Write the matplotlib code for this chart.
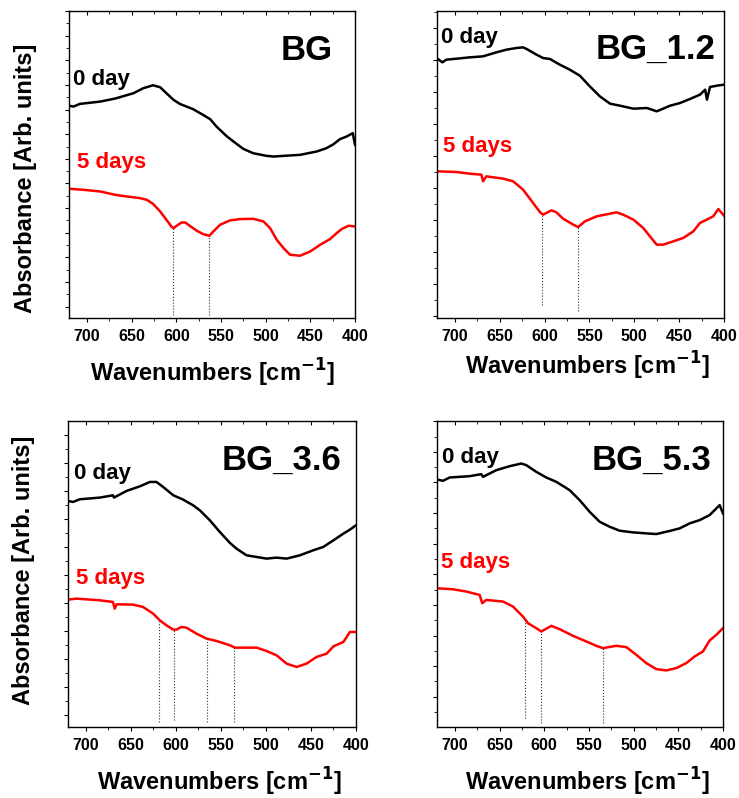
import numpy as np
import matplotlib.pyplot as plt
from matplotlib.ticker import MultipleLocator, AutoMinorLocator

plt.rcParams['font.family'] = ['Liberation Sans', 'DejaVu Sans']
plt.rcParams['font.weight'] = 'bold'
plt.rcParams['mathtext.default'] = 'bf'

# ---- data (absorbance in arbitrary units) ----
# BG
bg_wn0 = [719, 715, 708, 685, 668.5, 648, 637, 626, 618, 611, 603, 596, 581, 570, 562, 555, 544, 536,
          525, 514, 499, 491, 480, 461.5, 443, 432, 424, 417, 409.5, 402.5, 400]
bg_day0 = [6.82, 6.80, 6.88, 6.95, 7.04, 7.20, 7.35, 7.44, 7.38, 7.20, 7.00, 6.88, 6.72, 6.55, 6.42, 6.20,
           5.92, 5.75, 5.53, 5.40, 5.32, 5.30, 5.32, 5.35, 5.45, 5.55, 5.67, 5.82, 5.90, 6.00, 5.65]
bg_wn5 = [719, 704, 685, 668.5, 655.5, 640.5, 633, 626, 618, 611, 605, 603, 599.5, 594, 590, 585, 577,
          570, 563, 558.5, 551, 540, 529, 514, 502.5, 495, 487.6, 480, 472.7, 461.5, 450, 439, 428,
          420.5, 415, 407.5, 400]
bg_day5 = [4.33, 4.30, 4.25, 4.15, 4.10, 4.05, 4.00, 3.88, 3.65, 3.40, 3.18, 3.15, 3.22, 3.32, 3.32,
           3.22, 3.07, 2.97, 2.92, 3.05, 3.25, 3.38, 3.42, 3.43, 3.35, 3.15, 2.80, 2.55, 2.35, 2.32,
           2.45, 2.65, 2.82, 3.00, 3.12, 3.22, 3.20]
bg_marks = [603.3, 563]
bg_marks_low = [0.55, 0.55]

# BG_1.2
bg12_wn0 = [719, 714, 709.6, 698, 683.5, 668.6, 653.8, 642.6, 631.4, 624, 620, 609, 601.7, 594, 583,
            571.9, 560.7, 549.6, 538.4, 527, 516, 501, 486, 475, 460, 449, 438, 426.8, 421, 419,
            415.6, 408, 400]
bg12_day0 = [8.22, 8.12, 8.20, 8.23, 8.27, 8.30, 8.42, 8.50, 8.55, 8.57, 8.52, 8.35, 8.25, 8.22, 8.05,
             7.90, 7.72, 7.40, 7.10, 6.88, 6.82, 6.73, 6.75, 6.65, 6.82, 6.90, 7.02, 7.15, 7.30, 7.00,
             7.38, 7.42, 7.45]
bg12_wn5 = [719, 698, 683.5, 670.5, 668.6, 665, 646, 635, 624, 612.8, 605, 601.7, 592.4, 586.8, 579.4,
            568, 562.6, 555, 542, 527, 519.8, 512.4, 501, 490, 482.6, 475, 467.7, 456.6, 445.4, 434.2,
            426.8, 419.4, 412, 406.3, 400]
bg12_day5 = [4.85, 4.83, 4.78, 4.75, 4.55, 4.70, 4.63, 4.55, 4.30, 3.90, 3.62, 3.55, 3.68, 3.62, 3.43,
             3.25, 3.18, 3.35, 3.50, 3.58, 3.62, 3.55, 3.40, 3.15, 2.90, 2.65, 2.65, 2.75, 2.85, 3.05,
             3.30, 3.40, 3.50, 3.72, 3.52]
bg12_marks = [602.8, 562.6]
bg12_marks_low = [0.85, 0.65]

# BG_3.6
bg36_wn0 = [720, 714.4, 707, 684.8, 670, 668.9, 655, 640, 629, 621.7, 614.3, 603, 592, 581, 573.5,
            562.4, 551.3, 540, 532.8, 521.6, 510.5, 499.4, 488.3, 477, 462.3, 447.5, 436.4, 425, 414,
            406.7, 400]
bg36_day0 = [6.98, 6.95, 7.03, 7.08, 7.15, 7.08, 7.28, 7.42, 7.55, 7.55, 7.40, 7.15, 7.02, 6.85, 6.70,
             6.40, 6.05, 5.72, 5.55, 5.35, 5.30, 5.25, 5.28, 5.25, 5.35, 5.50, 5.60, 5.80, 6.00, 6.12,
             6.25]
bg36_wn5 = [720, 710.7, 684.8, 670, 668.1, 666, 647.7, 636.6, 625.4, 618, 610.6, 603, 599.5, 594, 588.4,
            577.3, 566, 555, 540, 534.6, 521.6, 510.5, 499.4, 488.3, 477, 466, 455, 443.8, 432.6, 425,
            414, 406.7, 400]
bg36_day5 = [4.02, 4.05, 4.00, 3.95, 3.75, 3.88, 3.87, 3.80, 3.60, 3.40, 3.25, 3.12, 3.12, 3.20, 3.18,
             3.00, 2.85, 2.78, 2.65, 2.58, 2.58, 2.58, 2.48, 2.35, 2.10, 2.00, 2.10, 2.30, 2.40, 2.62,
             2.75, 3.05, 3.05]
bg36_marks = [618.8, 602, 565.4, 535.7]
bg36_marks_low = [0.35, 0.40, 0.35, 0.35]

# BG_5.3
bg53_wn0 = [720, 713.3, 705.8, 683.4, 670.4, 668.5, 653.6, 638.7, 625.6, 620, 608.9, 597.7, 586.5, 571.6,
            560.4, 549.2, 538, 526.8, 515.6, 500.7, 485.8, 474.6, 460, 448.5, 437.3, 426, 414.9,
            403.7, 400]
bg53_day0 = [7.62, 7.58, 7.68, 7.72, 7.78, 7.70, 7.90, 8.02, 8.10, 8.05, 7.85, 7.68, 7.55, 7.30, 7.00,
             6.65, 6.35, 6.20, 6.08, 6.03, 6.00, 5.98, 6.07, 6.15, 6.30, 6.40, 6.55, 6.85, 6.60]
bg53_wn5 = [720, 702, 687, 672.3, 669.3, 664.8, 646, 635, 623.8, 618.2, 608.9, 603.3, 592, 582.7, 567.8,
            552.9, 541.7, 534.3, 519.3, 508.1, 497, 485.8, 474.6, 463.4, 452.2, 441, 431.7, 422.4,
            414.9, 407.4, 400]
bg53_day5 = [4.35, 4.32, 4.25, 4.15, 3.90, 4.00, 3.95, 3.80, 3.50, 3.30, 3.15, 3.05, 3.22, 3.12, 2.92,
             2.75, 2.62, 2.55, 2.62, 2.58, 2.35, 2.10, 1.92, 1.88, 1.95, 2.10, 2.30, 2.45, 2.78, 2.95,
             3.15]
bg53_marks = [621.2, 603.3, 534.3]
bg53_marks_low = [0.45, 0.30, 0.30]

names = ['BG', 'BG_1.2', 'BG_3.6', 'BG_5.3']

panels = [
    (bg_wn0, bg_day0, bg_wn5, bg_day5, bg_marks, bg_marks_low),
    (bg12_wn0, bg12_day0, bg12_wn5, bg12_day5, bg12_marks, bg12_marks_low),
    (bg36_wn0, bg36_day0, bg36_wn5, bg36_day5, bg36_marks, bg36_marks_low),
    (bg53_wn0, bg53_day0, bg53_wn5, bg53_day5, bg53_marks, bg53_marks_low),
]

# layout per panel
rects = [[0.0934, 0.6015, 0.3870, 0.3847],
         [0.5913, 0.6015, 0.3884, 0.3847],
         [0.0920, 0.0890, 0.3897, 0.3835],
         [0.5913, 0.0890, 0.3870, 0.3835]]
ylims = [(0.45, 9.67), (0.45, 9.66), (0.20, 9.38), (0.18, 9.38)]
ytick_step = [(0.74, 0.05), (0.96, 0.52), (0.84, 0.57), (0.92, 0.17)]
day0_pos = [(0.014, 0.759), (0.013, 0.895), (0.021, 0.810), (0.016, 0.864)]
day5_pos = [(0.028, 0.489), (0.020, 0.541), (0.028, 0.467), (0.014, 0.520)]
name_pos = [(0.923, 0.84), (0.969, 0.843), (0.950, 0.84), (0.960, 0.84)]
xlab_pos = [(0.502, -0.125), (0.524, -0.102), (0.525, -0.128), (0.526, -0.128)]
ylab_pos = [(-0.113, 0.456), None, (-0.113, 0.513), None]

fig = plt.figure(figsize=(7.39, 7.98), dpi=100)

for i, (wn0, a0, wn5, a5, marks, marks_low) in enumerate(panels):
    ax = fig.add_axes(rects[i])
    ax.plot(wn0, a0, color='black', lw=1.8)
    ax.plot(wn5, a5, color='red', lw=1.8)

    # dotted guides from the bottom up to the 5-day curve
    tops = np.interp(marks, wn5[::-1], a5[::-1])
    ax.vlines(marks, marks_low, tops, colors='#333333', linestyles=':', lw=0.8)

    ax.set_xlim(720, 400)
    ax.set_ylim(*ylims[i])
    ax.xaxis.set_major_locator(MultipleLocator(50))
    ax.xaxis.set_minor_locator(MultipleLocator(25))
    ax.yaxis.set_major_locator(MultipleLocator(ytick_step[i][0], offset=ytick_step[i][1]))
    ax.yaxis.set_minor_locator(AutoMinorLocator(2))
    ax.tick_params(axis='x', which='both', direction='out', top=True, labelsize=11.5, pad=5)
    ax.tick_params(axis='x', which='major', length=3)
    ax.tick_params(axis='x', which='minor', length=2)
    ax.tick_params(axis='y', which='both', direction='out', labelleft=False)
    ax.tick_params(axis='y', which='major', length=3)
    ax.tick_params(axis='y', which='minor', length=2)
    # top ticks point inward
    for t in ax.xaxis.get_major_ticks() + ax.xaxis.get_minor_ticks():
        t.tick2line.set_marker(3)
    for lab in ax.get_xticklabels():
        lab.set_fontweight('bold')
    for s in ax.spines.values():
        s.set_linewidth(1.0)

    ax.text(*day0_pos[i], '0 day', transform=ax.transAxes, fontsize=16,
            fontweight='bold', color='black')
    ax.text(*day5_pos[i], '5 days', transform=ax.transAxes, fontsize=16,
            fontweight='bold', color='red')
    ax.text(*name_pos[i], names[i], transform=ax.transAxes, fontsize=25,
            fontweight='bold', ha='right')

    ax.set_xlabel('Wavenumbers [cm$^{-1}$]', fontsize=17, fontweight='bold')
    ax.xaxis.set_label_coords(*xlab_pos[i])
    if ylab_pos[i] is not None:
        ax.set_ylabel('Absorbance [Arb. units]', fontsize=17, fontweight='bold')
        ax.yaxis.set_label_coords(*ylab_pos[i])

fig.savefig('out.png', dpi=100)
